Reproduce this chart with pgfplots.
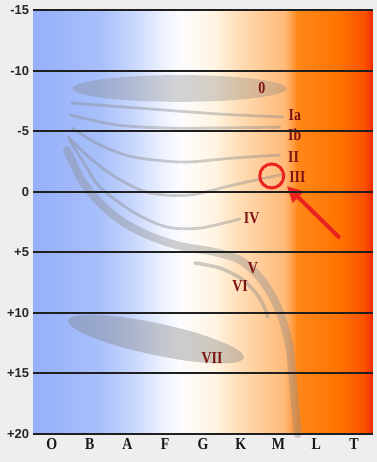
\documentclass[border=0pt]{standalone}
\usepackage{pgfplots}
\pgfplotsset{compat=1.18}
\usepackage{fontspec}
\setmainfont{Liberation Serif}
\newfontfamily\sansb{Liberation Sans}
\usetikzlibrary{arrows.meta}
\definecolor{bgc}{RGB}{238,238,238}
\definecolor{g0}{RGB}{150,175,250}
\definecolor{g1}{RGB}{168,192,250}
\definecolor{g2}{RGB}{200,215,252}
\definecolor{g3}{RGB}{235,240,255}
\definecolor{g4}{RGB}{252,252,255}
\definecolor{g5}{RGB}{255,244,225}
\definecolor{g6}{RGB}{255,220,180}
\definecolor{g7}{RGB}{255,185,120}
\definecolor{g8}{RGB}{255,135,25}
\definecolor{g9}{RGB}{255,115,0}
\definecolor{g10}{RGB}{250,80,0}
\definecolor{g11}{RGB}{240,40,0}
\definecolor{lblred}{RGB}{125,20,20}
\definecolor{annred}{RGB}{235,35,30}
\newcommand{\lbl}{\bfseries\fontsize{14}{14}\selectfont}
\newcommand{\st}[1]{\scalebox{1}[1.2]{#1}}
\begin{document}
\begin{tikzpicture}
\path[use as bounding box] (-33bp,-28bp) rectangle (344bp,434bp);
\fill[bgc] (-33bp,-28bp) rectangle (344bp,434bp);
\begin{axis}[
  at={(0,0)}, anchor=south west,
  width=340bp, height=424bp, scale only axis,
  xmin=0, xmax=9, ymin=-15, ymax=20, y dir=reverse,
  axis line style={draw=none},
  ytick={-15,-10,-5,0,5,10,15,20},
  yticklabels={-15,-10,-5,0,+5,+10,+15,+20},
  ymajorgrids, grid style={line width=2.1bp, color=black!88},
  major tick length=0,
  xtick={0.5,1.5,2.5,3.5,4.5,5.5,6.5,7.5,8.5},
  xticklabels={\st{O},\st{B},\st{A},\st{F},\st{G},\st{K},\st{M},\st{L},\st{T}},
  axis on top, clip=false,
  yticklabel style={font=\sansb\bfseries\fontsize{13}{13}\selectfont, color=black!85, xshift=-0.5bp},
  xticklabel style={font=\bfseries\fontsize{14}{14}\selectfont, color=black!90, yshift=-1bp},
]
% background gradient
\addplot[draw=none, left color=g0, right color=g1] coordinates {(0,-15)(1.78,-15)(1.78,20)(0,20)} --cycle;
\addplot[draw=none, left color=g1, right color=g2] coordinates {(1.77,-15)(2.66,-15)(2.66,20)(1.77,20)} --cycle;
\addplot[draw=none, left color=g2, right color=g3] coordinates {(2.65,-15)(3.37,-15)(3.37,20)(2.65,20)} --cycle;
\addplot[draw=none, left color=g3, right color=g4] coordinates {(3.36,-15)(3.90,-15)(3.90,20)(3.36,20)} --cycle;
\addplot[draw=none, left color=g4, right color=g5] coordinates {(3.89,-15)(4.82,-15)(4.82,20)(3.89,20)} --cycle;
\addplot[draw=none, left color=g5, right color=g6] coordinates {(4.81,-15)(5.49,-15)(5.49,20)(4.81,20)} --cycle;
\addplot[draw=none, left color=g6, right color=g7] coordinates {(5.48,-15)(6.68,-15)(6.68,20)(5.48,20)} --cycle;
\addplot[draw=none, left color=g7, right color=g8] coordinates {(6.67,-15)(7.01,-15)(7.01,20)(6.67,20)} --cycle;
\addplot[draw=none, left color=g8, right color=g9] coordinates {(7.0,-15)(8.13,-15)(8.13,20)(7.0,20)} --cycle;
\addplot[draw=none, left color=g9, right color=g10] coordinates {(8.12,-15)(8.79,-15)(8.79,20)(8.12,20)} --cycle;
\addplot[draw=none, left color=g10, right color=g11] coordinates {(8.78,-15)(9,-15)(9,20)(8.78,20)} --cycle;
% ellipse 0
\addplot[draw=none, fill=black!50, fill opacity=0.32, smooth] coordinates {
(3.88,-7.41)(2.79,-7.50)(1.87,-7.74)(1.26,-8.10)(1.04,-8.52)(1.26,-8.94)(1.87,-9.31)(2.79,-9.55)(3.88,-9.63)(4.97,-9.55)(5.89,-9.31)(6.50,-8.94)(6.72,-8.52)(6.50,-8.10)(5.89,-7.74)(4.97,-7.50)(3.88,-7.41)} --cycle;
% ellipse VII
\addplot[draw=none, fill=black!50, fill opacity=0.38, smooth] coordinates {
(3.17,13.46)(2.28,12.77)(1.545,11.99)(1.07,11.23)(0.926,10.62)(1.14,10.24)(1.67,10.16)(2.44,10.38)(3.34,10.88)(4.23,11.56)(4.96,12.35)(5.44,13.10)(5.58,13.71)(5.37,14.09)(4.84,14.17)(4.06,13.95)(3.17,13.46)} --cycle;
% luminosity class tracks
\addplot[black!45, opacity=0.42, line width=2.8bp, smooth, line cap=round] coordinates {(1.03,-7.32)(3.10,-6.83)(4.95,-6.41)(6.61,-6.17)};
\addplot[black!45, opacity=0.42, line width=2.8bp, smooth, line cap=round] coordinates {(0.98,-6.33)(2.22,-5.51)(3.54,-5.26)(4.87,-5.26)(6.53,-5.34)};
\addplot[black!45, opacity=0.42, line width=2.8bp, smooth, line cap=round] coordinates {(1.03,-5.26)(1.77,-3.86)(2.65,-2.87)(3.97,-2.45)(5.29,-2.78)(6.53,-3.03)};
\addplot[black!45, opacity=0.42, line width=2.8bp, smooth, line cap=round] coordinates {(0.93,-4.52)(1.51,-2.78)(2.22,-1.13)(3.10,0.11)(4.15,0.27)(5.29,-0.55)(6.27,-1.21)(6.67,-1.46)};
\addplot[black!45, opacity=0.42, line width=2.8bp, smooth, line cap=round] coordinates {(0.98,-4.19)(1.38,-2.21)(1.77,-0.39)(2.65,1.67)(3.54,2.91)(4.42,3.0)(5.48,2.25)};
% main sequence V
\addplot[black!45, opacity=0.4, line width=8bp, smooth, line cap=round] coordinates {(0.90,-3.44)(1.06,-2.37)(1.32,-0.80)(1.77,0.93)(2.38,2.50)(3.10,3.66)(3.89,4.48)(4.81,4.98)(5.48,5.64)(5.95,6.88)(6.32,8.53)(6.61,10.59)(6.80,13.07)(6.90,16.37)(7.01,20)};
% VI
\addplot[black!45, opacity=0.42, line width=3.5bp, smooth, line cap=round] coordinates {(4.29,5.88)(4.95,6.30)(5.53,7.21)(5.90,8.36)(6.11,9.43)(6.22,10.34)};
% annotation circle and arrow
\addplot[only marks, mark=o, mark size=12bp, mark options={draw=annred, line width=3bp}] coordinates {(6.32,-1.30)};
\addplot[annred, line width=4bp, -{Triangle[width=15bp,length=16bp]}] coordinates {(8.12,3.82)(6.72,-0.47)};
% labels
\node[font=\lbl, text=lblred] at (axis cs:6.06,-8.56) {\st{0}};
\node[font=\lbl, text=lblred] at (axis cs:6.93,-6.33) {\st{Ia}};
\node[font=\lbl, text=lblred] at (axis cs:6.93,-4.68) {\st{Ib}};
\node[font=\lbl, text=lblred] at (axis cs:6.90,-2.87) {\st{II}};
\node[font=\lbl, text=lblred] at (axis cs:7.0,-1.21) {\st{III}};
\node[font=\lbl, text=lblred] at (axis cs:5.79,2.2) {\st{IV}};
\node[font=\lbl, text=lblred] at (axis cs:5.82,6.30) {\st{V}};
\node[font=\lbl, text=lblred] at (axis cs:5.48,7.78) {\st{VI}};
\node[font=\lbl, text=lblred] at (axis cs:4.74,13.73) {\st{VII}};
% separators between spectral classes
\pgfplotsinvokeforeach{1,2,3,4,5,6,7,8}{
  \draw[black!70, line width=1.6bp] (axis cs:#1,20) ++(0,-3bp) -- ++(0,-18bp);
}
\end{axis}
\end{tikzpicture}
\end{document}
